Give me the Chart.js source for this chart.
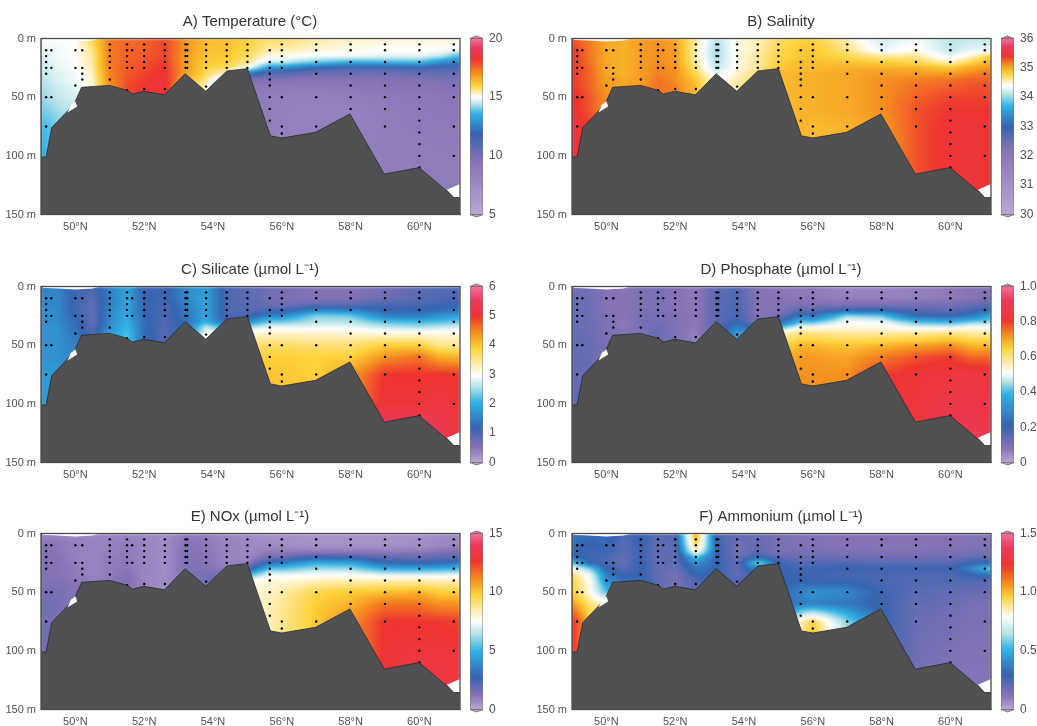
<!DOCTYPE html>
<html>
<head>
<meta charset="utf-8">
<title>Section plots</title>
<script src="https://cdn.jsdelivr.net/npm/chart.js@4"></script>
<style>
  html, body { margin: 0; padding: 0; background: #fff; overflow: hidden; width: 1037px; height: 726px; }
  canvas { position: absolute; }
</style>
</head>
<body>
<script>
// grid the sections were read on
const lats = [49, 49.5, 50, 50.5, 51, 51.5, 52, 52.6, 53.2, 53.8, 54.4, 55, 55.65, 56, 57, 58, 59, 60, 60.6, 61.2];
const depths = [0, 10, 15, 20, 25, 30, 35, 40, 50, 60, 75, 100, 135];

const temperature = [
  [15.0,15.0,15.0,15.9,17.3,17.5,17.6,17.9,17.0,16.3,16.3,16.0,15.8,15.8,15.5,15.3,15.2,15.2,15.2,15.2],
  [14.8,14.9,15.0,15.6,17.3,17.6,17.6,18.0,16.9,16.3,16.2,15.9,15.4,15.4,15.2,15.1,15.0,15.0,15.0,14.9],
  [14.7,14.9,15.0,15.5,17.3,17.6,17.7,18.0,16.8,16.2,16.1,15.8,15.1,15.1,14.9,14.9,14.8,14.8,14.5,13.6],
  [14.6,14.8,15.0,15.5,17.3,17.6,17.8,18.1,16.8,16.1,16.0,15.6,14.6,14.6,14.0,13.6,13.7,13.8,13.0,12.6],
  [14.6,14.8,15.0,15.4,17.3,17.7,17.9,18.2,16.8,16.0,15.8,15.1,13.0,13.0,11.9,11.3,11.4,11.8,11.4,11.4],
  [14.5,14.7,14.9,15.3,17.2,17.7,18.0,18.3,16.8,15.8,15.2,12.5,10.8,10.8,10.2,10.1,10.1,10.3,10.4,10.5],
  [14.4,14.7,14.9,15.2,17.1,17.8,18.1,18.4,16.5,15.6,14.0,10.0,9.6,9.6,9.4,9.5,9.6,9.7,9.8,9.9],
  [14.3,14.6,14.8,15.2,17.0,17.9,18.2,18.5,16.0,15.4,12.0,9.2,9.0,9.0,9.0,9.1,9.3,9.4,9.5,9.6],
  [14.2,14.5,14.7,15.0,16.5,18.0,18.2,18.5,16.0,15.4,11.0,8.8,8.6,8.5,8.4,8.6,8.9,9.0,9.1,9.2],
  [14.0,14.3,14.5,15.0,16.5,18.0,18.2,18.5,16.0,15.4,11.0,8.8,8.6,8.4,8.3,8.3,8.7,8.9,9.0,9.0],
  [13.7,14.0,14.5,15.0,16.5,18.0,18.2,18.5,16.0,15.4,11.0,8.8,8.6,8.4,8.3,8.3,8.7,8.8,8.9,8.9],
  [13.5,14.0,14.5,15.0,16.5,18.0,18.2,18.5,16.0,15.4,11.0,8.8,8.6,8.5,8.4,8.4,8.6,8.7,8.7,8.7],
  [13.5,14.0,14.5,15.0,16.5,18.0,18.2,18.5,16.0,15.4,11.0,8.8,8.6,8.5,8.4,8.4,8.6,8.7,8.7,8.7]
];
const salinity = [
  [35.3,35.15,35.0,34.95,35.05,35.1,35.0,34.6,34.1,34.45,34.55,34.7,34.8,34.8,34.55,34.2,34.35,34.1,34.15,34.15],
  [35.4,35.2,35.0,34.95,35.05,35.1,35.05,34.55,34.05,34.45,34.55,34.75,34.85,34.85,34.65,34.3,34.45,34.15,34.3,34.3],
  [35.4,35.2,35.0,34.95,35.05,35.1,35.05,34.55,34.05,34.45,34.6,34.75,34.85,34.85,34.75,34.6,34.6,34.3,34.5,34.8],
  [35.4,35.2,35.0,34.95,35.05,35.1,35.05,34.6,34.1,34.45,34.6,34.8,34.9,34.9,34.85,34.8,34.75,34.5,34.75,35.0],
  [35.4,35.25,35.0,34.95,35.05,35.15,35.1,34.65,34.15,34.45,34.6,34.85,34.9,34.9,34.95,34.95,34.95,34.85,35.0,35.1],
  [35.4,35.25,35.0,34.95,35.05,35.15,35.1,34.75,34.3,34.5,34.7,34.9,34.95,34.95,35.0,35.05,35.05,35.05,35.15,35.2],
  [35.4,35.25,35.05,35.0,35.05,35.2,35.1,34.85,34.4,34.55,34.7,34.9,34.95,34.95,35.0,35.1,35.15,35.2,35.25,35.25],
  [35.4,35.25,35.05,35.0,35.05,35.2,35.15,34.9,34.4,34.6,34.7,34.9,34.95,34.95,35.0,35.1,35.2,35.25,35.3,35.3],
  [35.45,35.3,35.1,35.0,35.05,35.2,35.15,34.9,34.4,34.6,34.7,34.9,34.95,34.95,35.0,35.1,35.25,35.35,35.35,35.35],
  [35.45,35.3,35.1,35.0,35.05,35.2,35.15,34.9,34.4,34.6,34.7,34.9,34.95,34.95,35.0,35.1,35.3,35.4,35.4,35.4],
  [35.5,35.35,35.1,35.0,35.05,35.2,35.15,34.9,34.4,34.6,34.7,34.9,34.95,34.9,34.95,35.05,35.3,35.45,35.45,35.45],
  [35.5,35.35,35.1,35.0,35.05,35.2,35.15,34.9,34.4,34.6,34.7,34.9,34.95,34.9,34.95,35.05,35.3,35.45,35.45,35.45],
  [35.5,35.35,35.1,35.0,35.05,35.2,35.15,34.9,34.4,34.6,34.7,34.9,34.95,34.9,34.95,35.05,35.3,35.45,35.45,35.45]
];
const silicate = [
  [1.5,1.5,1.1,1.0,1.5,1.9,1.1,1.1,1.6,1.8,1.0,0.9,0.7,0.7,0.5,0.5,0.65,0.8,0.9,1.0],
  [1.6,1.6,1.1,0.9,1.5,1.9,1.2,1.1,1.6,1.9,1.0,0.9,0.65,0.6,0.55,0.55,0.7,0.9,1.0,1.0],
  [1.6,1.6,1.1,0.85,1.5,1.9,1.2,1.05,1.5,1.9,1.0,0.9,0.75,0.7,0.8,0.8,1.0,1.0,1.1,1.2],
  [1.7,1.6,1.1,0.85,1.6,1.9,1.2,1.0,1.4,1.9,1.0,0.9,1.0,1.0,1.5,1.5,1.2,1.2,1.3,1.4],
  [1.7,1.6,1.2,0.8,1.6,2.0,1.2,1.0,1.4,1.9,1.0,1.0,1.6,1.6,2.4,2.3,1.5,1.5,1.7,1.9],
  [1.7,1.6,1.3,0.8,1.6,2.0,1.3,0.95,1.3,2.0,1.2,1.6,2.3,2.3,2.6,2.6,2.2,2.1,2.2,2.3],
  [1.7,1.7,1.3,0.9,1.7,2.1,1.3,0.95,1.3,2.7,2.0,2.6,2.9,2.9,2.9,2.9,2.7,2.6,2.7,2.8],
  [1.7,1.7,1.4,1.0,1.8,2.2,1.3,0.9,1.3,3.0,3.0,3.2,3.2,3.2,3.2,3.2,3.1,3.1,3.1,3.1],
  [1.7,1.7,1.5,1.1,1.8,2.2,1.4,0.9,1.3,3.0,3.0,3.6,3.7,3.7,3.6,3.6,3.9,3.9,3.5,3.5],
  [1.7,1.7,1.5,1.1,1.8,2.2,1.4,0.9,1.3,3.0,3.0,3.8,3.9,3.9,3.9,3.9,4.4,4.6,4.2,4.1],
  [1.8,1.8,1.5,1.1,1.8,2.2,1.4,0.9,1.3,3.0,3.0,3.8,4.0,4.0,3.9,4.3,5.0,5.0,5.0,5.0],
  [1.8,1.8,1.5,1.1,1.8,2.2,1.4,0.9,1.3,3.0,3.0,3.8,4.0,4.0,4.0,4.5,5.1,5.1,5.2,5.1],
  [1.8,1.8,1.5,1.1,1.8,2.2,1.4,0.9,1.3,3.0,3.0,3.8,4.0,4.0,4.0,4.5,5.9,5.9,5.5,5.2]
];
const phosphate = [
  [0.11,0.11,0.08,0.08,0.09,0.1,0.08,0.07,0.14,0.16,0.08,0.07,0.07,0.07,0.05,0.05,0.06,0.07,0.08,0.08],
  [0.13,0.12,0.08,0.08,0.09,0.1,0.08,0.07,0.15,0.17,0.08,0.08,0.07,0.07,0.06,0.06,0.06,0.07,0.08,0.1],
  [0.13,0.12,0.08,0.08,0.09,0.1,0.08,0.07,0.15,0.17,0.08,0.08,0.09,0.09,0.09,0.09,0.1,0.1,0.13,0.15],
  [0.13,0.12,0.08,0.08,0.09,0.1,0.08,0.07,0.15,0.18,0.08,0.08,0.14,0.14,0.2,0.2,0.15,0.14,0.18,0.22],
  [0.13,0.12,0.09,0.08,0.1,0.11,0.09,0.07,0.15,0.18,0.08,0.1,0.25,0.25,0.45,0.42,0.22,0.2,0.27,0.37],
  [0.13,0.12,0.09,0.07,0.1,0.11,0.09,0.07,0.15,0.2,0.1,0.2,0.4,0.4,0.51,0.5,0.4,0.38,0.42,0.44],
  [0.13,0.12,0.09,0.07,0.1,0.12,0.09,0.07,0.15,0.28,0.2,0.4,0.52,0.52,0.53,0.53,0.5,0.5,0.52,0.52],
  [0.13,0.12,0.1,0.08,0.1,0.13,0.09,0.06,0.15,0.34,0.34,0.55,0.6,0.6,0.58,0.58,0.58,0.6,0.58,0.58],
  [0.14,0.13,0.1,0.08,0.1,0.13,0.09,0.06,0.15,0.34,0.34,0.62,0.68,0.68,0.66,0.68,0.7,0.72,0.68,0.68],
  [0.14,0.13,0.1,0.08,0.1,0.13,0.09,0.06,0.15,0.34,0.34,0.66,0.71,0.71,0.7,0.74,0.78,0.8,0.76,0.76],
  [0.14,0.13,0.1,0.08,0.1,0.13,0.09,0.06,0.15,0.34,0.34,0.68,0.72,0.72,0.72,0.8,0.83,0.85,0.85,0.84],
  [0.14,0.13,0.1,0.08,0.1,0.13,0.09,0.06,0.15,0.34,0.34,0.68,0.72,0.72,0.73,0.8,0.84,0.87,0.87,0.87],
  [0.14,0.13,0.1,0.08,0.1,0.13,0.09,0.06,0.15,0.34,0.34,0.68,0.72,0.72,0.73,0.8,0.87,0.92,0.9,0.88]
];
const nox = [
  [0.8,0.8,0.7,0.7,0.8,0.8,0.7,0.6,0.9,0.9,0.7,0.6,0.5,0.5,0.4,0.4,0.4,0.5,0.6,0.7],
  [1.2,1.1,0.9,0.8,0.9,1.0,0.8,0.6,1.2,1.1,0.8,0.7,0.6,0.6,0.5,0.5,0.5,0.6,0.7,0.8],
  [1.3,1.1,0.9,0.8,0.9,1.0,0.8,0.6,1.3,1.1,0.8,0.7,0.9,0.9,0.9,0.9,0.9,0.9,1.2,1.4],
  [1.3,1.2,0.9,0.8,1.0,1.0,0.8,0.6,1.3,1.2,0.8,0.7,1.5,1.5,2.5,2.3,1.8,1.7,1.8,2.0],
  [1.3,1.2,0.9,0.8,1.0,1.1,0.8,0.6,1.3,1.2,0.8,0.9,3.0,3.5,4.8,4.6,2.8,2.6,2.8,3.4],
  [1.3,1.2,1.0,0.8,1.0,1.1,0.8,0.6,1.3,1.3,1.0,2.0,5.5,5.5,6.3,6.2,4.8,4.7,4.9,5.2],
  [1.3,1.2,1.0,0.8,1.0,1.2,0.8,0.6,1.3,1.5,1.5,5.0,7.3,7.2,7.5,7.5,7.0,7.0,7.0,7.2],
  [1.3,1.3,1.1,0.9,1.1,1.3,0.8,0.6,1.3,1.6,2.0,7.5,7.9,7.8,8.2,8.3,8.3,8.4,8.3,8.3],
  [1.5,1.5,1.2,0.9,1.1,1.3,0.8,0.6,1.3,1.6,2.0,8.0,8.2,8.5,9.6,9.9,10.2,10.4,9.8,9.8],
  [1.6,1.5,1.2,0.9,1.1,1.3,0.8,0.6,1.3,1.6,2.0,8.2,8.3,8.7,9.9,10.4,11.5,11.5,11.0,11.0],
  [1.6,1.5,1.2,0.9,1.1,1.3,0.8,0.6,1.3,1.6,2.0,8.2,8.3,8.8,10.0,11.0,12.7,12.7,12.6,12.5],
  [1.6,1.5,1.2,0.9,1.1,1.3,0.8,0.6,1.3,1.6,2.0,8.2,8.3,8.8,10.0,11.0,12.9,13.1,13.1,13.0],
  [1.6,1.5,1.2,0.9,1.1,1.3,0.8,0.6,1.3,1.6,2.0,8.2,8.3,8.8,10.0,11.0,13.0,13.4,13.3,13.0]
];
const ammonium = [
  [0.35,0.33,0.35,0.25,0.3,0.22,0.25,1.05,0.25,0.2,0.18,0.15,0.13,0.13,0.12,0.12,0.12,0.12,0.12,0.12],
  [0.32,0.3,0.3,0.22,0.3,0.2,0.22,0.95,0.3,0.16,0.2,0.15,0.13,0.13,0.12,0.12,0.12,0.12,0.13,0.13],
  [0.32,0.28,0.28,0.22,0.28,0.2,0.2,0.85,0.3,0.16,0.2,0.15,0.15,0.15,0.14,0.13,0.13,0.14,0.15,0.15],
  [0.32,0.28,0.25,0.2,0.28,0.2,0.2,0.55,0.3,0.17,0.3,0.2,0.17,0.18,0.17,0.16,0.16,0.17,0.18,0.18],
  [0.55,0.3,0.25,0.2,0.3,0.2,0.2,0.42,0.3,0.2,0.6,0.3,0.22,0.24,0.24,0.22,0.22,0.23,0.3,0.3],
  [0.8,0.6,0.3,0.22,0.3,0.2,0.18,0.35,0.3,0.2,0.4,0.3,0.26,0.28,0.3,0.28,0.28,0.28,0.4,0.6],
  [0.93,0.75,0.38,0.28,0.3,0.2,0.15,0.3,0.3,0.2,0.3,0.3,0.28,0.28,0.25,0.26,0.24,0.24,0.3,0.35],
  [0.95,0.8,0.4,0.33,0.33,0.2,0.15,0.25,0.3,0.22,0.3,0.3,0.3,0.28,0.28,0.25,0.24,0.24,0.24,0.24],
  [0.97,0.82,0.55,0.4,0.35,0.2,0.15,0.2,0.3,0.22,0.3,0.3,0.38,0.43,0.4,0.28,0.22,0.2,0.18,0.18],
  [1.07,0.9,0.85,0.4,0.35,0.2,0.15,0.2,0.3,0.22,0.3,0.3,0.36,0.38,0.35,0.28,0.2,0.18,0.15,0.15],
  [1.25,1.0,0.9,0.4,0.35,0.2,0.15,0.2,0.3,0.22,0.3,0.3,0.85,0.95,0.6,0.3,0.18,0.16,0.14,0.14],
  [1.25,1.0,0.9,0.4,0.35,0.2,0.15,0.2,0.3,0.22,0.3,0.3,0.9,1.05,0.7,0.3,0.17,0.14,0.13,0.13],
  [1.25,1.0,0.9,0.4,0.35,0.2,0.15,0.2,0.3,0.22,0.3,0.3,0.9,1.05,0.7,0.3,0.15,0.13,0.12,0.12]
];

// seabed
const bedLat = [49, 49.15, 49.31, 49.96, 50.18, 51, 51.49, 51.66, 51.98, 52.59, 53.19, 53.79, 54.4, 55, 55.67, 56, 56.98, 57.98, 58.98, 59.99, 61, 61.18];
const bedDepth = [101, 101, 76, 56, 41.6, 40, 44, 47.4, 45, 48, 30, 45, 27.7, 25.7, 83, 84.8, 80, 64.3, 115.6, 110, 135, 135];

// sampling stations
const stationLat = [49.15, 49.3, 50, 50.2, 51, 51.5, 51.65, 52, 52.6, 53.2, 53.25, 53.8, 54.4, 55, 55.65, 56, 57, 58, 59, 60, 61];
const stationDepths = [
  [10, 15, 20, 25, 30, 50, 75], [10, 25, 50], [10, 25, 40], [10, 25, 30, 35],
  [5, 10, 15, 20, 25, 35], [5, 10, 15, 20, 25, 44], [10, 25], [5, 10, 15, 20, 25, 43],
  [5, 10, 15, 20, 25, 43], [5, 10, 15, 20, 25], [5, 10, 15, 20, 25], [5, 10, 15, 20, 25, 41],
  [5, 10, 15, 20, 25], [5, 10, 15, 20, 25], [10, 20, 25, 30, 35, 40, 50, 60, 70],
  [5, 10, 15, 20, 25, 50, 75, 81], [5, 10, 20, 30, 50, 75], [5, 10, 20, 30, 40, 50, 60],
  [5, 10, 20, 30, 40, 50, 60, 75], [5, 10, 20, 30, 40, 50, 60, 70, 80, 90, 100, 110],
  [5, 10, 20, 30, 40, 50, 75, 100]
];

// places with no interpolated data, left white
const surfaceGap = [[49.05, 0], [50.7, 0], [50.5, 1.8], [50.0, 2.6], [49.5, 1.6], [49.05, 1]];
const shelfGap = [[49.77, 63], [49.87, 56.5], [50.0, 53.5], [50.05, 58]];
const cornerGap = [[60.8, 129], [61.18, 124], [61.18, 135], [61, 135]];

// colour ramp, the value of each colour differs per panel
const rampColours = ['#baa8d4', '#8673b6', '#3564b0', '#2fb2e5', '#b8e4e8', '#ffffff', '#fdd23a', '#f5921f', '#ee3430', '#ea3a5c', '#f0709a'];
const panels = [
  { title: 'A) Temperature (°C)', rows: temperature, min: 5, max: 20, step: 5, dec: 0, ramp: [5, 9.5, 11.9, 13.6, 14.4, 15, 16, 17, 18.2, 19.2, 20] },
  { title: 'B) Salinity', rows: salinity, min: 30, max: 36, step: 1, dec: 0, ramp: [30, 32.2, 33, 33.7, 34.1, 34.4, 34.8, 35.1, 35.4, 35.7, 36] },
  { title: 'C) Silicate (µmol L⁻¹)', rows: silicate, min: 0, max: 6, step: 1, dec: 0, ramp: [0, 0.5, 1.2, 2.05, 2.6, 2.97, 3.9, 4.4, 5, 5.5, 6] },
  { title: 'D) Phosphate (µmol L⁻¹)', rows: phosphate, min: 0, max: 1, step: 0.2, dec: 1, ramp: [0, 0.08, 0.21, 0.39, 0.46, 0.51, 0.65, 0.72, 0.81, 0.92, 1] },
  { title: 'E) NOx (µmol L⁻¹)', rows: nox, min: 0, max: 15, step: 5, dec: 0, ramp: [0, 1.2, 2.7, 5, 6.5, 7.5, 9.8, 11, 12.7, 14, 15] },
  { title: 'F) Ammonium (µmol L⁻¹)', rows: ammonium, min: 0, max: 1.5, step: 0.5, dec: 1, ramp: [0, 0.12, 0.3, 0.51, 0.65, 0.79, 0.96, 1.07, 1.23, 1.38, 1.5] }
];

const FONT = '"Liberation Sans", Arial, sans-serif';
const INK = '#505050';
const rampRgb = rampColours.map(c => [1, 3, 5].map(i => parseInt(c.substr(i, 2), 16)));

function colourAt(ramp, v) {
  let i = 0;
  while (i < ramp.length - 2 && v > ramp[i + 1]) i++;
  let t = (v - ramp[i]) / (ramp[i + 1] - ramp[i]);
  t = Math.max(0, Math.min(1, t));
  return rampRgb[i].map((c, k) => c + (rampRgb[i + 1][k] - c) * t);
}

function bracket(list, v) {
  let i = 0;
  while (i < list.length - 2 && v > list[i + 1]) i++;
  return [i, Math.max(0, Math.min(1, (v - list[i]) / (list[i + 1] - list[i])))];
}

// shades the section under the datasets, position comes from the chart's scales
const fieldPlugin = {
  id: 'field',
  beforeDatasetsDraw(chart, args, opts) {
    const a = chart.chartArea, xs = chart.scales.x, ys = chart.scales.y;
    const w = Math.ceil(a.right - a.left), h = Math.ceil(a.bottom - a.top);
    const off = document.createElement('canvas');
    off.width = w; off.height = h;
    const octx = off.getContext('2d');
    const img = octx.createImageData(w, h);
    for (let py = 0; py < h; py++) {
      const [r, tr] = bracket(depths, ys.getValueForPixel(a.top + py + 0.5));
      for (let px = 0; px < w; px++) {
        const [c, tc] = bracket(lats, xs.getValueForPixel(a.left + px + 0.5));
        const top = opts.rows[r][c] * (1 - tc) + opts.rows[r][c + 1] * tc;
        const bot = opts.rows[r + 1][c] * (1 - tc) + opts.rows[r + 1][c + 1] * tc;
        const rgb = colourAt(opts.ramp, top * (1 - tr) + bot * tr);
        const k = (py * w + px) * 4;
        img.data[k] = rgb[0]; img.data[k + 1] = rgb[1]; img.data[k + 2] = rgb[2]; img.data[k + 3] = 255;
      }
    }
    octx.putImageData(img, 0, 0);
    const ctx = chart.ctx;
    ctx.save();
    ctx.beginPath();
    ctx.rect(a.left, a.top, a.right - a.left, a.bottom - a.top);
    ctx.clip();
    ctx.filter = 'blur(0.8px)';
    ctx.drawImage(off, a.left, a.top);
    ctx.restore();
  },
  afterDatasetsDraw(chart) {
    const a = chart.chartArea, ctx = chart.ctx;
    ctx.save();
    ctx.strokeStyle = '#4a4a4a';
    ctx.lineWidth = 1.3;
    ctx.strokeRect(a.left, a.top, a.right - a.left, a.bottom - a.top);
    ctx.restore();
  }
};

// the little hexagon points on the colour bars
const capsPlugin = {
  id: 'caps',
  afterDatasetsDraw(chart) {
    const a = chart.chartArea, ctx = chart.ctx, mid = (a.left + a.right) / 2;
    [[a.top, -2.5, rampColours[10]], [a.bottom, 2.5, rampColours[0]]].forEach(([y, d, col]) => {
      ctx.save();
      ctx.beginPath();
      ctx.moveTo(a.left, y);
      ctx.lineTo(mid, y + d);
      ctx.lineTo(a.right, y);
      ctx.closePath();
      ctx.fillStyle = col;
      ctx.fill();
      ctx.strokeStyle = '#666';
      ctx.lineWidth = 0.8;
      ctx.stroke();
      ctx.restore();
    });
  }
};

function gapDataset(points) {
  return {
    type: 'line',
    data: points.map(p => ({ x: p[0], y: p[1] })),
    fill: 'shape',
    backgroundColor: '#ffffff',
    borderWidth: 0,
    pointRadius: 0,
    tension: 0
  };
}

function addCanvas(left, top, width, height) {
  const cv = document.createElement('canvas');
  cv.style.left = left + 'px';
  cv.style.top = top + 'px';
  cv.style.width = width + 'px';
  cv.style.height = height + 'px';
  cv.width = width;
  cv.height = height;
  document.body.appendChild(cv);
  return cv;
}

const stationPoints = [];
stationLat.forEach((lat, i) => stationDepths[i].forEach(d => stationPoints.push({ x: lat, y: d })));

function drawSection(p, left, top) {
  new Chart(addCanvas(left, top, 500, 240), {
    type: 'scatter',
    plugins: [fieldPlugin],
    data: {
      datasets: [
        gapDataset(surfaceGap),
        gapDataset(shelfGap),
        gapDataset(cornerGap),
        {
          type: 'line',
          label: 'Seabed',
          data: bedLat.map((x, i) => ({ x: x, y: bedDepth[i] })),
          fill: { value: 150 },
          backgroundColor: '#515153',
          borderColor: '#2a2a2a',
          borderWidth: 0.8,
          pointRadius: 0,
          tension: 0
        },
        {
          label: 'Stations',
          data: stationPoints,
          backgroundColor: '#000',
          borderWidth: 0,
          pointRadius: 1.2
        }
      ]
    },
    options: {
      responsive: false,
      animation: false,
      layout: { padding: { top: 12.5, right: 0, left: 0, bottom: 0 } },
      plugins: {
        legend: { display: false },
        tooltip: { enabled: false },
        field: { rows: p.rows, ramp: p.ramp },
        title: {
          display: true,
          text: p.title,
          color: '#333',
          font: { family: FONT, size: 15, weight: 'normal', lineHeight: 1.2 },
          padding: { top: 0, bottom: 8 }
        }
      },
      scales: {
        x: {
          type: 'linear',
          min: 49,
          max: 61.18,
          afterFit(s) { s.height = 25.5; },
          grid: { display: false, tickLength: 3, tickColor: '#555' },
          border: { color: '#4a4a4a' },
          ticks: {
            stepSize: 1,
            autoSkip: false,
            includeBounds: false,
            maxRotation: 0,
            padding: 3,
            color: INK,
            font: { family: FONT, size: 11 },
            callback: v => (v % 2 === 0 ? v + '°N' : '')
          }
        },
        y: {
          type: 'linear',
          reverse: true,
          min: 0,
          max: 150,
          afterFit(s) { s.width = 41; },
          grid: { display: false, tickLength: 4, tickColor: '#555' },
          border: { color: '#4a4a4a' },
          ticks: {
            stepSize: 25,
            autoSkip: false,
            padding: 1,
            color: INK,
            font: { family: FONT, size: 11 },
            callback: v => (v % 50 === 0 ? v + ' m' : '')
          }
        },
        // empty axis that keeps the title centred over the plot
        spare: {
          type: 'linear',
          position: 'right',
          afterFit(s) { s.width = 40; },
          grid: { display: false },
          border: { display: false },
          ticks: { display: false }
        }
      }
    }
  });
}

function drawColourBar(p, left, top) {
  new Chart(addCanvas(left, top, 41, 240), {
    type: 'bar',
    plugins: [capsPlugin],
    data: {
      labels: [p.title],
      datasets: [{
        data: [[p.min, p.max]],
        barPercentage: 1,
        categoryPercentage: 1,
        borderWidth: 0.8,
        borderColor: '#777',
        borderSkipped: false,
        backgroundColor(ctx) {
          const a = ctx.chart.chartArea;
          if (!a) return rampColours[5];
          const ys = ctx.chart.scales.y;
          const g = ctx.chart.ctx.createLinearGradient(0, ys.getPixelForValue(p.min), 0, ys.getPixelForValue(p.max));
          p.ramp.forEach((v, i) => g.addColorStop((v - p.min) / (p.max - p.min), rampColours[i]));
          return g;
        }
      }]
    },
    options: {
      responsive: false,
      animation: false,
      layout: { padding: { top: 38.5, bottom: 25.5, left: 5, right: 0 } },
      plugins: { legend: { display: false }, tooltip: { enabled: false } },
      scales: {
        x: { display: false },
        y: {
          position: 'right',
          min: p.min,
          max: p.max,
          afterFit(s) { s.width = 23; },
          border: { display: false },
          grid: { display: false, tickLength: 2 },
          ticks: {
            stepSize: p.step,
            padding: 4,
            color: INK,
            font: { family: FONT, size: 12 },
            callback: v => (v === 0 ? '0' : v.toFixed(p.dec))
          }
        }
      }
    }
  });
}

const rowTops = [0, 247.5, 495];
panels.forEach((p, i) => {
  const col = i % 2, top = rowTops[Math.floor(i / 2)];
  drawSection(p, col * 530.5, top);
  drawColourBar(p, 465 + col * 531, top);
});
</script>
</body>
</html>
